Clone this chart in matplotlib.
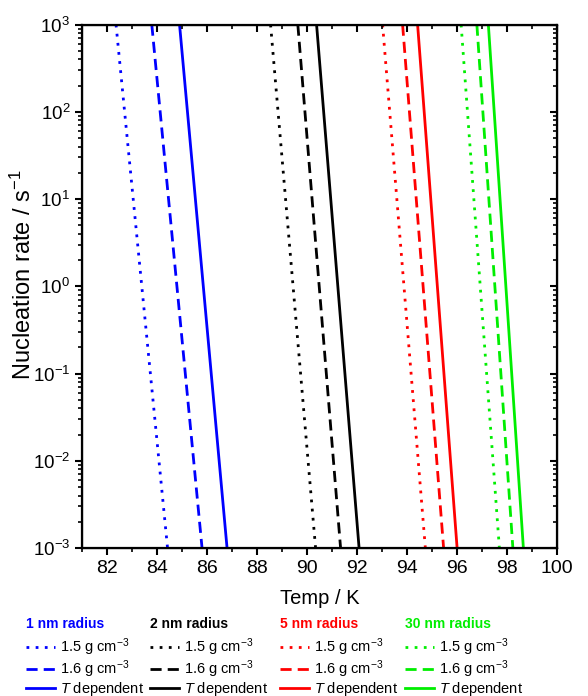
import matplotlib
matplotlib.use('Agg')
import matplotlib.pyplot as plt
from matplotlib.lines import Line2D

plt.rcParams['font.family'] = ['Liberation Sans', 'DejaVu Sans']
plt.rcParams['mathtext.fontset'] = 'custom'
plt.rcParams['mathtext.rm'] = 'Liberation Sans'
plt.rcParams['mathtext.it'] = 'Liberation Sans:italic'

# rate range (each curve goes from top to bottom of the plot)
rate = [1e3, 1e-3]

# temperature (K) at rate = 1e3 and 1e-3 for each radius / density
radii = ['1 nm radius', '2 nm radius', '5 nm radius', '30 nm radius']
colores = ['#0000ff', '#000000', '#ff0000', '#00ee00']
temp_15 = [[82.36, 84.42], [88.54, 90.34], [93.02, 94.73], [96.16, 97.69]]
temp_16 = [[83.79, 85.80], [89.63, 91.34], [93.82, 95.46], [96.79, 98.23]]
temp_T = [[84.90, 86.80], [90.38, 92.08], [94.42, 96.00], [97.25, 98.65]]
etiquetas = ['1.5 g cm$^{-3}$', '1.6 g cm$^{-3}$', '$T$ dependent']

punteada = (0, (1, 2.3))
rayada = (0, (4, 2.2))

fig = plt.figure(figsize=(5.88, 6.96), dpi=100)
ax = fig.add_axes([0.1395, 0.2126, 0.808, 0.752])

for i in range(4):
    ax.plot(temp_15[i], rate, color=colores[i], lw=2, ls=punteada)
    ax.plot(temp_16[i], rate, color=colores[i], lw=2, ls=rayada)
    ax.plot(temp_T[i], rate, color=colores[i], lw=2, ls='-')

ax.set_yscale('log')
ax.set_xlim(81, 100)
ax.set_ylim(1e-3, 1e3)
ax.set_xticks(range(82, 101, 2))
ax.set_xticks(range(81, 101), minor=True)
ax.set_yticks([1e-3, 1e-2, 1e-1, 1e0, 1e1, 1e2, 1e3])
ax.tick_params(axis='both', which='major', labelsize=14, width=1.5, length=5, direction='out')
ax.tick_params(axis='y', which='major', labelsize=13.5)
ax.tick_params(axis='both', which='minor', width=1.2, length=3, direction='out')
for lado in ['top', 'bottom', 'left', 'right']:
    ax.spines[lado].set_linewidth(1.6)

# inward ticks on the top and right sides
ax2 = ax.twinx()
ax2.set_yscale('log')
ax2.set_ylim(1e-3, 1e3)
ax2.set_yticks([1e-3, 1e-2, 1e-1, 1e0, 1e1, 1e2, 1e3])
ax2.tick_params(axis='y', which='major', direction='in', length=5, width=1.5, labelright=False)
ax2.tick_params(axis='y', which='minor', direction='in', length=3, width=1.2)
ax3 = ax.twiny()
ax3.set_xlim(81, 100)
ax3.set_xticks(range(82, 101, 2))
ax3.set_xticks(range(81, 101), minor=True)
ax3.tick_params(axis='x', which='major', direction='in', length=5, width=1.5, labeltop=False)
ax3.tick_params(axis='x', which='minor', direction='in', length=3, width=1.2)

ax.set_xlabel('Temp / K', fontsize=14.5, labelpad=9)
ax.set_ylabel('Nucleation rate / s$^{-1}$', fontsize=17, labelpad=-2, y=0.523)

posiciones = [0.044, 0.255, 0.476, 0.689]
for i in range(4):
    handles = [Line2D([], [], color=colores[i], lw=2, ls=punteada),
               Line2D([], [], color=colores[i], lw=2, ls=rayada),
               Line2D([], [], color=colores[i], lw=2, ls='-')]
    leg = fig.legend(handles, etiquetas, loc='upper left',
                     bbox_to_anchor=(posiciones[i], 0.114), frameon=False,
                     fontsize=10.5, title=radii[i],
                     title_fontproperties={'weight': 'bold', 'size': 10},
                     handlelength=2.0, handletextpad=0.35, labelspacing=0.02,
                     borderpad=0, borderaxespad=0, alignment='left')
    leg.get_title().set_color(colores[i])
    leg._legend_box.sep = 4  # a bit more room under the title

fig.savefig('out.png', dpi=100)
